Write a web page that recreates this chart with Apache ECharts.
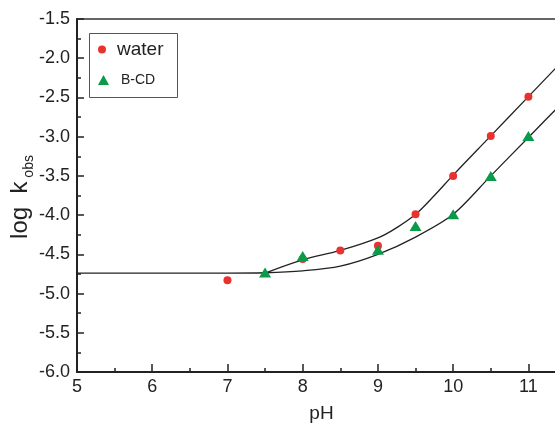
<!DOCTYPE html>
<html>
<head>
<meta charset="utf-8">
<script src="https://cdn.jsdelivr.net/npm/echarts@6/dist/echarts.min.js"></script>
<style>html,body{margin:0;padding:0;background:#fff}#c{width:555px;height:426px}</style>
</head>
<body>
<div id="c"></div>
<script>
// Measured points
const waterPH = [7, 8, 8.5, 9, 9.5, 10, 10.5, 11];
const waterLogK = [-4.83, -4.56, -4.45, -4.39, -3.99, -3.50, -2.99, -2.49];
const bcdPH = [7.5, 8, 9, 9.5, 10, 10.5, 11];
const bcdLogK = [-4.73, -4.52, -4.44, -4.14, -3.99, -3.50, -2.99];
// Fitted curves
const fitWaterPH = [7.5, 8.0, 8.5, 9.0, 9.25, 9.5, 9.75, 10, 10.5, 11, 11.5];
const fitWaterLogK = [-4.74, -4.57, -4.45, -4.29, -4.16, -3.99, -3.75, -3.49, -2.99, -2.49, -1.99];
const fitBcdPH = [5, 7.0, 7.5, 8.0, 8.5, 9.0, 9.5, 10.0, 10.5, 11.0, 11.5];
const fitBcdLogK = [-4.74, -4.74, -4.735, -4.71, -4.65, -4.50, -4.28, -3.99, -3.50, -3.01, -2.52];
// Axis
const xTicks = [5, 6, 7, 8, 9, 10, 11];
const yTicks = [-6.0, -5.5, -5.0, -4.5, -4.0, -3.5, -3.0, -2.5, -2.0, -1.5];
const xTitle = 'pH';
const yTitleMain = 'log  k';
const yTitleSub = ' obs';

const zip = (a, b) => a.map((v, i) => [v, b[i]]);
const FONT = '"Liberation Sans", Arial, sans-serif';
const INK = '#222';

const chart = echarts.init(document.getElementById('c'), null, {renderer: 'canvas'});
chart.setOption({
  animation: false,
  backgroundColor: '#fff',
  grid: {left: 77, right: -11, top: 19, bottom: 54, containLabel: false, outerBoundsMode: 'none',
    show: true, borderColor: '#333', borderWidth: 1.5, backgroundColor: 'transparent'},
  xAxis: {
    type: 'value', min: xTicks[0], max: 11.5, interval: 1,
    name: xTitle, nameLocation: 'middle', nameGap: 32, nameMoveOverlap: false,
    nameTextStyle: {fontFamily: FONT, fontSize: 19, color: INK},
    axisLine: {show: true, lineStyle: {color: INK, width: 2}},
    axisTick: {show: true, inside: true, length: 8, lineStyle: {color: INK, width: 1.5}},
    minorTick: {show: true, splitNumber: 2, length: 4, lineStyle: {color: INK, width: 1.5}},
    splitLine: {show: false},
    axisLabel: {fontFamily: FONT, fontSize: 18, color: INK, margin: 6, showMaxLabel: false,
      formatter: v => xTicks.includes(v) ? String(v) : ''}
  },
  yAxis: {
    type: 'value', min: yTicks[0], max: yTicks[yTicks.length - 1], interval: 0.5,
    axisLine: {show: true, lineStyle: {color: INK, width: 2}},
    axisTick: {show: true, inside: true, length: 7, lineStyle: {color: INK, width: 1.5}},
    minorTick: {show: true, splitNumber: 2, length: 4, lineStyle: {color: INK, width: 1.5}},
    splitLine: {show: false},
    axisLabel: {fontFamily: FONT, fontSize: 18, color: INK, margin: 7, formatter: v => v.toFixed(1)}
  },
  legend: [
    {data: ['water'], orient: 'vertical', left: 98, top: 40, padding: 0,
     itemWidth: 8, itemHeight: 8, itemGap: 0,
     formatter: n => '{t|' + n + '}',
     textStyle: {fontFamily: FONT, fontSize: 19, color: INK,
       rich: {t: {fontFamily: FONT, fontSize: 19, color: INK, padding: [0, 0, 0, 6]}}}},
    {data: ['B-CD'], orient: 'vertical', left: 98, top: 73, padding: 0,
     itemWidth: 11, itemHeight: 10, itemGap: 0,
     formatter: n => '{t|' + n + '}',
     textStyle: {fontFamily: FONT, fontSize: 14, color: INK,
       rich: {t: {fontFamily: FONT, fontSize: 14, color: INK, padding: [0, 0, 0, 7]}}}}
  ],
  graphic: [
    {type: 'rect', left: 89, top: 33, z: 0,
     shape: {width: 88, height: 64}, style: {fill: '#fff', stroke: '#555', lineWidth: 1}},
    {type: 'text', x: 20, y: 197, rotation: Math.PI / 2, z: 10,
     style: {text: '{a|' + yTitleMain + '}{b|' + yTitleSub + '}', align: 'center', verticalAlign: 'middle',
       rich: {
         a: {fontFamily: FONT, fontSize: 24, fill: INK, lineHeight: 32, verticalAlign: 'middle'},
         b: {fontFamily: FONT, fontSize: 14, fill: INK, lineHeight: 14, verticalAlign: 'bottom'}
       }}}
  ],
  series: [
    {name: 'fitBcd', type: 'line', data: zip(fitBcdPH, fitBcdLogK), showSymbol: false, smooth: 0.3,
     lineStyle: {color: INK, width: 1.3}, z: 2, silent: true},
    {name: 'fitWater', type: 'line', data: zip(fitWaterPH, fitWaterLogK), showSymbol: false, smooth: 0.4,
     lineStyle: {color: INK, width: 1.3}, z: 2, silent: true},
    {name: 'water', type: 'scatter', data: zip(waterPH, waterLogK), symbol: 'circle', symbolSize: 8,
     itemStyle: {color: '#e8322f', opacity: 1}, z: 3},
    {name: 'B-CD', type: 'scatter', data: zip(bcdPH, bcdLogK), symbol: 'triangle', symbolSize: [12, 10],
     itemStyle: {color: '#0a9a4a', opacity: 1}, z: 4}
  ]
});
</script>
</body>
</html>
